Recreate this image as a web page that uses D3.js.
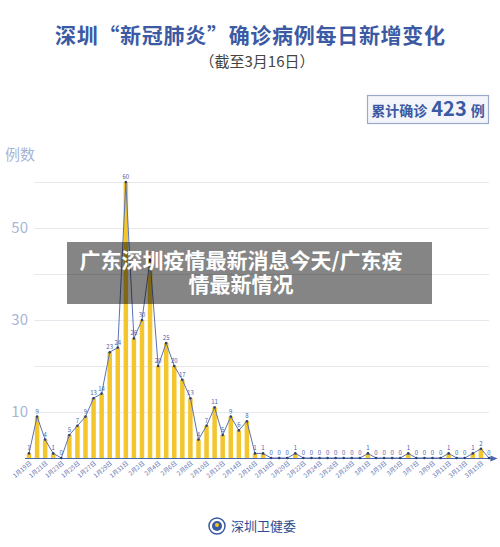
<!DOCTYPE html>
<html><head><meta charset="utf-8">
<script src="https://cdn.jsdelivr.net/npm/d3@7"></script>
<style>html,body{margin:0;padding:0;background:#fff;}svg{display:block;font-family:"Noto Sans CJK SC","Noto Sans",sans-serif;}</style>
</head><body>
<svg id="chart" width="500" height="547"></svg>
<script>
const dates = ["1月19日","1月20日","1月21日","1月22日","1月23日","1月24日","1月25日","1月26日","1月27日","1月28日","1月29日","1月30日","1月31日",
"2月1日","2月2日","2月3日","2月4日","2月5日","2月6日","2月7日","2月8日","2月9日","2月10日","2月11日","2月12日","2月13日","2月14日","2月15日","2月16日","2月17日","2月18日","2月19日","2月20日","2月21日","2月22日","2月23日","2月24日","2月25日","2月26日","2月27日","2月28日","2月29日",
"3月1日","3月2日","3月3日","3月4日","3月5日","3月6日","3月7日","3月8日","3月9日","3月10日","3月11日","3月12日","3月13日","3月14日","3月15日","3月16日"];
const newCases = [1,9,4,1,0,5,7,9,13,14,23,24,60,
26,30,43,20,25,20,17,13,4,7,11,5,9,6,8,1,1,0,0,0,1,0,0,0,0,0,0,0,0,
1,0,0,0,0,1,0,0,0,0,1,0,0,1,2,0];
const yTicks = [10,20,30,40,50,60];
const yLabels = [10,30,50];
const title = "深圳“新冠肺炎”确诊病例每日新增变化";
const subtitle = "（截至3月16日）";
const totalLabel = ["累计确诊","423","例"];
const watermark = ["广东深圳疫情最新消息今天/广东疫","情最新情况"];

const svg = d3.select("#chart");
const x = d3.scalePoint().domain(dates).range([29,489]);
const y = d3.scaleLinear().domain([0,60]).range([458,182]);

// title
svg.append("text").attr("x",55).attr("y",43)
  .attr("textLength",390).attr("lengthAdjust","spacing")
  .attr("font-size",21).attr("font-weight","bold").attr("fill","#3b5aa3").text(title);
svg.append("text").attr("x",257).attr("y",67).attr("text-anchor","middle")
  .attr("font-size",15).attr("fill","#444").text(subtitle);

// total box
svg.append("rect").attr("x",367.5).attr("y",95.5).attr("width",121).attr("height",28)
  .attr("fill","#f3f5fa").attr("stroke","#9aa9cc").attr("stroke-width",1.2);
const tb = svg.append("text").attr("x",428).attr("y",116).attr("text-anchor","middle").attr("fill","#3b5aa3").attr("font-weight","bold");
tb.append("tspan").attr("font-size",14).text(totalLabel[0]);
tb.append("tspan").attr("font-size",20).attr("dx",4).text(totalLabel[1]);
tb.append("tspan").attr("font-size",14).attr("dx",4).text(totalLabel[2]);

// y title
svg.append("text").attr("x",5).attr("y",160).attr("font-size",15).attr("fill","#a8b5d6").text("例数");

// gridlines
svg.append("g").selectAll("line").data(yTicks).join("line")
  .attr("x1",34).attr("x2",489).attr("y1",d=>y(d)+0.5).attr("y2",d=>y(d)+0.5)
  .attr("stroke","#e6e8ee").attr("stroke-width",1);
svg.append("g").selectAll("text").data(yLabels).join("text")
  .attr("x",28).attr("y",d=>y(d)+5).attr("text-anchor","end")
  .attr("font-size",15).attr("fill","#a8b5d6").text(d=>d);

// bars
svg.append("g").selectAll("rect").data(newCases).join("rect")
  .attr("x",(d,i)=>x(dates[i])-2.25).attr("width",4.5)
  .attr("y",d=>y(d)).attr("height",d=>y(0)-y(d))
  .attr("fill","#f2c62c");

// axis line with arrow
svg.append("defs").append("marker").attr("id","arr").attr("viewBox","0 0 10 10")
  .attr("refX",5).attr("refY",5).attr("markerWidth",6).attr("markerHeight",6).attr("orient","auto")
  .append("path").attr("d","M0,1L10,5L0,9Z").attr("fill","#4a66ad");
svg.append("line").attr("x1",25).attr("x2",494).attr("y1",y(0)+0.5).attr("y2",y(0)+0.5)
  .attr("stroke","#4a66ad").attr("stroke-width",1.2).attr("marker-end","url(#arr)");

// line
svg.append("path").datum(newCases)
  .attr("d",d3.line().x((d,i)=>x(dates[i])).y(d=>y(d)))
  .attr("fill","none").attr("stroke","#5b72b3").attr("stroke-width",1);
svg.append("g").selectAll("circle").data(newCases).join("circle")
  .attr("cx",(d,i)=>x(dates[i])).attr("cy",d=>y(d)).attr("r",1.3).attr("fill","#2f3f6e");
svg.append("g").selectAll("text").data(newCases).join("text")
  .attr("x",(d,i)=>x(dates[i])).attr("y",d=>y(d)-3).attr("text-anchor","middle")
  .attr("font-size",6).attr("fill","#4a64a8").text(d=>d);

// x labels every other day
svg.append("g").selectAll("text").data(dates.filter((d,i)=>i%2===0)).join("text")
  .attr("transform",d=>`translate(${x(d)+3},${y(0)+6}) rotate(-40)`)
  .attr("text-anchor","end").attr("font-size",6).attr("fill","#5a72b2").text(d=>d);

// watermark
svg.append("rect").attr("x",67).attr("y",242).attr("width",365).attr("height",62)
  .attr("fill","#000").attr("fill-opacity",0.48);
svg.append("g").selectAll("text").data(watermark).join("text")
  .attr("x",241).attr("y",(d,i)=>268+i*24).attr("text-anchor","middle")
  .attr("font-size",21).attr("font-weight","bold").attr("fill","#fff").text(d=>d);

// footer
const logo = svg.append("g").attr("transform","translate(217,526)");
logo.append("circle").attr("r",8).attr("fill","#fff").attr("stroke","#3a5aa5").attr("stroke-width",1.5);
logo.append("circle").attr("r",5).attr("fill","#3a5aa5");
logo.append("circle").attr("r",2).attr("cy",-1).attr("fill","#f2c62c");
svg.append("text").attr("x",231).attr("y",531).attr("font-size",13).attr("fill","#2e4a8f").text("深圳卫健委");
</script>
</body></html>
